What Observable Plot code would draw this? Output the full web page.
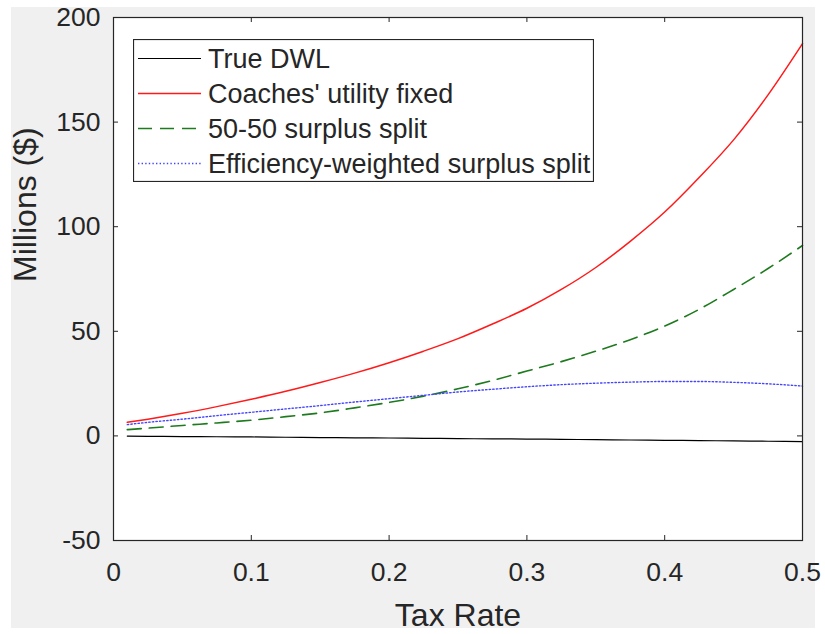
<!DOCTYPE html>
<html><head><meta charset="utf-8">
<script src="https://cdn.jsdelivr.net/npm/d3@7"></script>
<script src="https://cdn.jsdelivr.net/npm/@observablehq/plot@0.6"></script>
<style>
body{margin:0;background:#fff;}
#wrap{position:relative;width:825px;height:634px;overflow:hidden;font-family:"Liberation Sans",Arial,sans-serif;}
#bg{position:absolute;left:11px;top:7px;width:804px;height:621px;background:#f0f0f0;}
#chart{position:absolute;left:0;top:0;}
#legend{position:absolute;left:133px;top:39px;}
</style></head><body>
<div id="wrap"><div id="bg"></div><div id="chart"></div><div id="legend"></div></div>
<script>
// ---- data ----
const taxRate = [0.01,0.025,0.05,0.075,0.1,0.125,0.15,0.175,0.2,0.225,0.25,0.275,0.3,0.325,0.35,0.375,0.4,0.425,0.45,0.475,0.5];
const trueDWL = [-0.1,-0.2,-0.3,-0.4,-0.5,-0.65,-0.8,-0.9,-1.0,-1.15,-1.3,-1.4,-1.5,-1.65,-1.8,-1.95,-2.1,-2.25,-2.4,-2.55,-2.7];
const coachesFixed = [6.5,8,10.8,14,17.5,21.3,25.5,30,35,40.5,46.5,53.5,61,70,80.5,93,107,123.5,141.5,163,187.5];
const split5050 = [3,3.7,5,6.2,7.5,9.2,11,13.4,16,19,22.5,26.5,31,35.5,40.5,46,52.5,60.5,70,80,91];
const effWeighted = [5.4,6.5,8,9.7,11.3,12.9,14.5,16.2,17.8,19.4,21,22.3,23.5,24.5,25.2,25.7,26,26,25.6,24.9,23.8];
const seriesNames = ["True DWL","Coaches' utility fixed","50-50 surplus split","Efficiency-weighted surplus split"];
const seriesColors = ["#000000","#ff1a1a","#1e7a1e","#4545ff"];
const seriesDash = [null,null,"14,8","1.4,2.2"];
const seriesWidth = [1.2,1.5,1.6,1.4];
const xTicks = [0,0.1,0.2,0.3,0.4,0.5];
const yTicks = [-50,0,50,100,150,200];
const xLabel = "Tax Rate";
const yLabel = "Millions ($)";

const seriesValues = [trueDWL, coachesFixed, split5050, effWeighted];
const rows = [];
seriesValues.forEach((vals, s) => vals.forEach((v, i) => rows.push({series: seriesNames[s], x: taxRate[i], y: v})));

const W = 825, H = 634, mL = 113, mR = 23, mT = 17, mB = 94;
const innerW = W - mL - mR, innerH = H - mT - mB;
const axisColor = "#262626";

const lineMarks = seriesNames.map((name, s) => Plot.line(rows.filter(d => d.series === name), {
  x: "x", y: "y", stroke: seriesColors[s], strokeWidth: seriesWidth[s],
  strokeDasharray: seriesDash[s], curve: "monotone-x"
}));

const chart = Plot.plot({
  width: W, height: H,
  marginLeft: mL, marginRight: mR, marginTop: mT, marginBottom: mB,
  style: {background: "transparent", fontFamily: "'Liberation Sans', Arial, sans-serif", color: axisColor},
  x: {domain: [0, 0.5]},
  y: {domain: [-50, 200]},
  marks: [
    Plot.frame({fill: "white", stroke: null}),
    ...lineMarks,
    Plot.ruleX(xTicks, {x: d => d, insetTop: innerH - 5, stroke: axisColor}),
    Plot.ruleX(xTicks, {x: d => d, insetBottom: innerH - 5, stroke: axisColor}),
    Plot.ruleY(yTicks, {y: d => d, insetRight: innerW - 5, stroke: axisColor}),
    Plot.ruleY(yTicks, {y: d => d, insetLeft: innerW - 5, stroke: axisColor}),
    Plot.frame({stroke: axisColor, strokeWidth: 1.2}),
    Plot.axisX(xTicks, {tickSize: 0, tickPadding: 22, fontSize: 26.5, tickFormat: d => String(d), label: null, fill: axisColor}),
    Plot.axisY(yTicks, {tickSize: 0, tickPadding: 13, fontSize: 26.5, tickFormat: d => String(d), label: null, fill: axisColor}),
    Plot.text([xLabel], {text: d => d, frameAnchor: "bottom", dy: 75.5, lineAnchor: "middle", fontSize: 32, fill: axisColor}),
    Plot.text([yLabel], {text: d => d, frameAnchor: "left", dx: -88, dy: 3, rotate: -90, lineAnchor: "middle", fontSize: 32, fill: axisColor})
  ]
});
document.getElementById("chart").appendChild(chart);

// legend
const lw = 461, lh = 143;
const leg = d3.select("#legend").append("svg").attr("width", lw).attr("height", lh)
  .style("font-family", "'Liberation Sans', Arial, sans-serif");
leg.append("rect").attr("x", 0.5).attr("y", 0.5).attr("width", lw - 1).attr("height", lh - 1)
  .attr("fill", "white").attr("stroke", axisColor).attr("stroke-width", 1.2);
seriesNames.forEach((name, s) => {
  const cy = 19.5 + s * 35;
  leg.append("line").attr("x1", 5).attr("x2", 68).attr("y1", cy).attr("y2", cy)
    .attr("stroke", seriesColors[s]).attr("stroke-width", seriesWidth[s])
    .attr("stroke-dasharray", seriesDash[s]);
  leg.append("text").attr("x", 75).attr("y", cy).attr("dy", "0.35em")
    .attr("font-size", 27).attr("fill", axisColor).text(name);
});
</script>
</body></html>
